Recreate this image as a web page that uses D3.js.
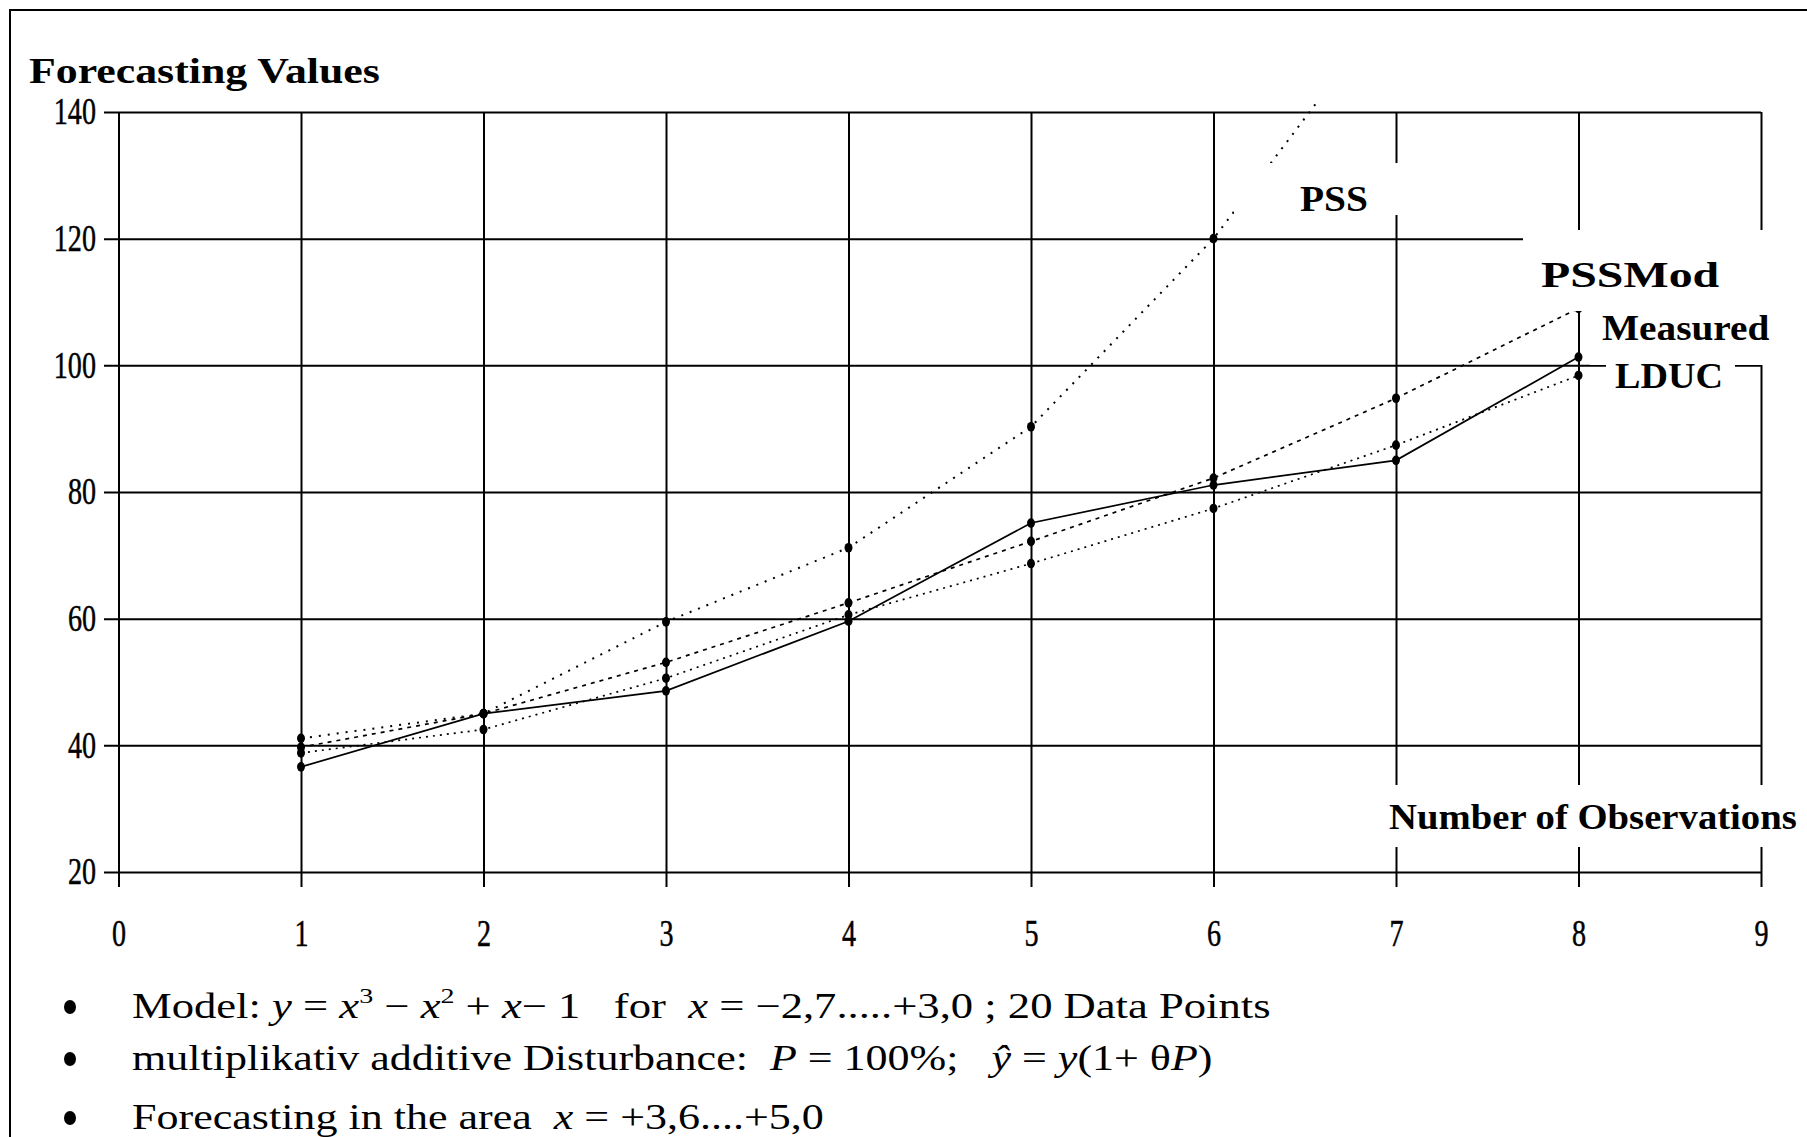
<!DOCTYPE html>
<html>
<head>
<meta charset="utf-8">
<script src="https://cdn.jsdelivr.net/npm/d3@7"></script>
<style>
  body { margin: 0; background: #fff; }
  svg { display: block; }
  text { font-family: "Liberation Serif", "Times New Roman", serif; fill: #000; }
</style>
</head>
<body>
<svg id="chart" width="1807" height="1137"></svg>
<script>
// values
var observations = [1, 2, 3, 4, 5, 6, 7, 8];
var measured = [36.6, 45.0, 48.6, 59.6, 75.1, 81.1, 85.0, 101.3];
var pss = [41.1, 45.0, 59.5, 71.2, 90.3, 120.0, 158.0];
var pssMod = [39.7, 45.0, 53.1, 62.5, 72.2, 82.2, 94.8, 109.0];
var lduc = [38.8, 42.5, 50.6, 60.6, 68.7, 77.4, 87.4, 98.4];
var yTicks = [20, 40, 60, 80, 100, 120, 140];
var xTicks = [0, 1, 2, 3, 4, 5, 6, 7, 8, 9];

var svg = d3.select("#chart");

var plotLeft = 118.5, plotRight = 1761, plotTop = 112, plotBottom = 872;
var x = d3.scaleLinear().domain([0, 9]).range([plotLeft, plotRight]);
var y = d3.scaleLinear().domain([20, 140]).range([plotBottom, plotTop]);

// frame round the whole picture
svg.append("rect")
    .attr("x", 10).attr("y", 10)
    .attr("width", 1820).attr("height", 1150)
    .attr("fill", "none")
    .attr("stroke", "#000")
    .attr("stroke-width", 2);

// the tick digits in the original are tall and narrow
var digitScale = 0.76;

// horizontal grid + y labels
var yAxis = svg.append("g")
    .attr("transform", "translate(104,0)")
    .call(d3.axisLeft(y).tickValues(yTicks).tickSize(-(plotRight - 104)).tickPadding(4).tickFormat(d3.format("d")));
yAxis.select(".domain").remove();
yAxis.selectAll("line").attr("stroke", "#000").attr("stroke-width", 2);
yAxis.selectAll("text")
    .attr("font-size", 37)
    .attr("font-family", "Liberation Serif")
    .attr("fill", "#000")
    .attr("stroke", "#000")
    .attr("stroke-width", 0.5)
    .attr("x", 0)
    .attr("transform", "translate(-8,0) scale(" + digitScale + ",1)");

// vertical grid + x labels
var xAxis = svg.append("g")
    .attr("transform", "translate(0,887)")
    .call(d3.axisBottom(x).tickValues(xTicks).tickSize(-(887 - plotTop)).tickPadding(33));
xAxis.select(".domain").remove();
xAxis.selectAll("line").attr("stroke", "#000").attr("stroke-width", 2);
xAxis.selectAll("text")
    .attr("font-size", 37)
    .attr("font-family", "Liberation Serif")
    .attr("fill", "#000")
    .attr("stroke", "#000")
    .attr("stroke-width", 0.5)
    .attr("transform", "scale(" + digitScale + ",1)");

svg.append("clipPath").attr("id", "plotclip")
    .append("rect")
    .attr("x", plotLeft).attr("y", 100)
    .attr("width", plotRight - plotLeft).attr("height", plotBottom - 100);

var series = [
    { name: "PSS", values: pss, dash: "2,7", width: 2 },
    { name: "PSSMod", values: pssMod, dash: "4,5", width: 1.7 },
    { name: "LDUC", values: lduc, dash: "2,5", width: 1.7 },
    { name: "Measured", values: measured, dash: null, width: 1.7 }
];

var line = d3.line()
    .x(function (d, i) { return x(observations[i]); })
    .y(function (d) { return y(d); });

var plot = svg.append("g").attr("clip-path", "url(#plotclip)");

series.forEach(function (s) {
    plot.append("path")
        .datum(s.values)
        .attr("fill", "none")
        .attr("stroke", "#000")
        .attr("stroke-width", s.width)
        .attr("stroke-dasharray", s.dash)
        .attr("d", line);

    plot.selectAll(null)
        .data(s.values)
        .enter()
        .append("ellipse")
        .attr("cx", function (d, i) { return x(observations[i]); })
        .attr("cy", function (d) { return y(d); })
        .attr("rx", 4)
        .attr("ry", 4.8)
        .attr("fill", "#000");
});

// white label boxes that cover the grid, like the original
var boxes = [
    [1234, 163, 168, 52],
    [1523, 230, 290, 81],
    [1590, 311, 230, 54],
    [1606, 355, 129, 40],
    [1380, 785, 440, 62]
];
boxes.forEach(function (b) {
    svg.append("rect")
        .attr("x", b[0]).attr("y", b[1])
        .attr("width", b[2]).attr("height", b[3])
        .attr("fill", "#fff");
});

// place text so it spans a given width
function fitText(t, x0, y0, w) {
    var bw = t.node().getBBox().width;
    t.attr("x", 0).attr("y", 0)
        .attr("transform", "translate(" + x0 + "," + y0 + ") scale(" + (w / bw) + ",1)");
}

function boldLabel(txt, x0, y0, w) {
    var t = svg.append("text")
        .attr("font-size", 35)
        .attr("font-weight", "bold")
        .text(txt);
    fitText(t, x0, y0, w);
}

boldLabel("Forecasting Values", 29, 83, 351);
boldLabel("PSS", 1300, 211, 68);
boldLabel("PSSMod", 1541, 287, 179);
boldLabel("Measured", 1602, 340, 168);
boldLabel("LDUC", 1615, 388, 108);
boldLabel("Number of Observations", 1389, 829, 408);

// notes under the chart
var notes = [
    [["Model: ", ""], ["y", "i"], [" = ", ""], ["x", "i"], ["3", "sup"], [" \u2212 ", ""], ["x", "i"], ["2", "sup"],
     [" + ", ""], ["x", "i"], ["\u2212 1   for  ", ""], ["x", "i"], [" = \u22122,7.....+3,0 ; 20 Data Points", ""]],
    [["multiplikativ additive Disturbance:  ", ""], ["P", "i"], [" = 100%;   ", ""], ["\u0177", "i"], [" = ", ""],
     ["y", "i"], ["(1+ \u03b8", ""], ["P", "i"], [")", ""]],
    [["Forecasting in the area  ", ""], ["x", "i"], [" = +3,6....+5,0", ""]]
];
var noteY = [1018, 1070, 1129];
var noteW = [1139, 1081, 692];

notes.forEach(function (parts, k) {
    svg.append("ellipse")
        .attr("cx", 70).attr("cy", noteY[k] - 11)
        .attr("rx", 6).attr("ry", 7)
        .attr("fill", "#000");

    var t = svg.append("text")
        .attr("font-size", 35)
        .style("white-space", "pre");
    var raised = false;
    parts.forEach(function (p) {
        var ts = t.append("tspan").text(p[0]);
        if (p[1] == "i") ts.attr("font-style", "italic");
        if (p[1] == "sup") {
            ts.attr("font-size", 22).attr("dy", -15);
            raised = true;
        } else if (raised) {
            ts.attr("dy", 15);
            raised = false;
        }
    });
    fitText(t, 132, noteY[k], noteW[k]);
});
</script>
</body>
</html>
